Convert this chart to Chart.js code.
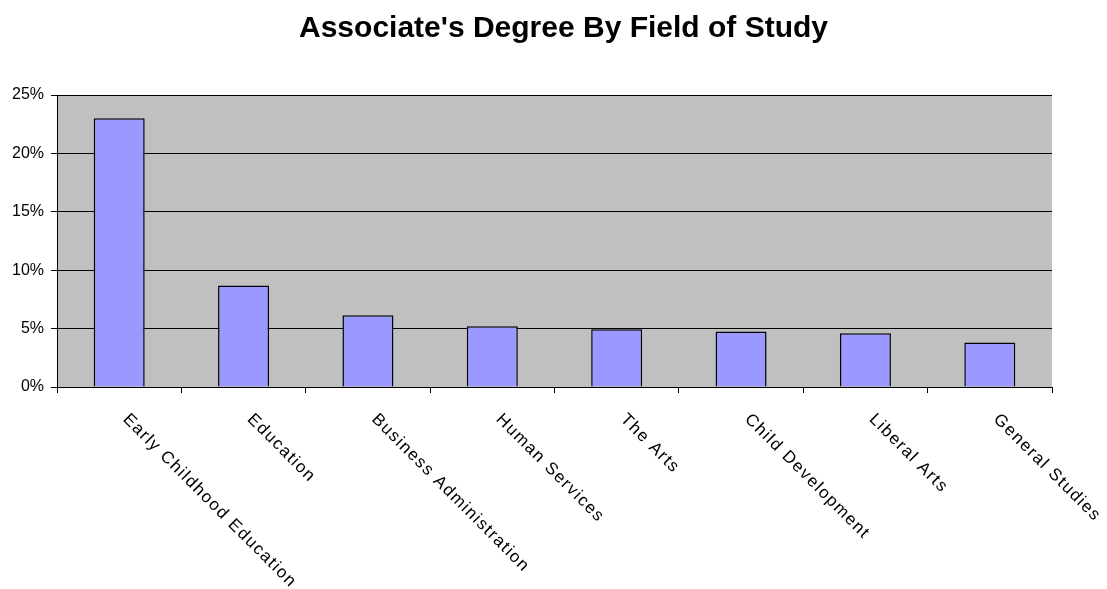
<!DOCTYPE html>
<html>
<head>
<meta charset="utf-8">
<script src="https://cdn.jsdelivr.net/npm/chart.js@4/dist/chart.umd.min.js"></script>
<style>
  html, body { margin: 0; padding: 0; background: #fff; }
  #wrap { position: relative; width: 1107px; height: 589px; }
</style>
</head>
<body>
<div id="wrap"><canvas id="chart"></canvas></div>
<script>
const fields = ['Early Childhood Education', 'Education', 'Business Administration', 'Human Services', 'The Arts', 'Child Development', 'Liberal Arts', 'General Studies'];
const shares = [23.0, 8.7, 6.15, 5.2, 4.95, 4.75, 4.6, 3.8];
const yTicks = [0, 5, 10, 15, 20, 25];

const FONT = 'Liberation Sans, Arial, sans-serif';
Chart.defaults.font.family = FONT;
Chart.defaults.color = '#000';

// plot background + slanted category labels (Excel style: text runs down-right)
const excelLook = {
  id: 'excelLook',
  afterLayout(chart) {
    // title is centred a bit right of the canvas centre in the original
    if (chart.titleBlock) { chart.titleBlock.left = 20; chart.titleBlock.right = 1107; }
  },
  beforeDraw(chart) {
    const { ctx, chartArea: a } = chart;
    ctx.save();
    ctx.fillStyle = '#c0c0c0';
    ctx.fillRect(a.left, a.top, a.right - a.left, a.bottom - a.top);
    ctx.restore();
  },
  afterDraw(chart) {
    const { ctx, chartArea: a } = chart;
    const xs = chart.scales.x;
    ctx.save();
    ctx.font = '17px ' + FONT;
    ctx.fillStyle = '#000';
    ctx.textAlign = 'left';
    ctx.textBaseline = 'alphabetic';
    if ('letterSpacing' in ctx) ctx.letterSpacing = '1.5px';
    fields.forEach((label, i) => {
      const x = xs.getPixelForTick(i);
      ctx.save();
      ctx.translate(x + 3, a.bottom + 33);
      ctx.rotate(Math.PI / 4);
      ctx.fillText(label, 0, 0);
      ctx.restore();
    });
    ctx.restore();
  }
};

new Chart(document.getElementById('chart'), {
  type: 'bar',
  data: {
    labels: fields,
    datasets: [{
      data: shares,
      backgroundColor: '#9999ff',
      borderColor: '#000',
      borderWidth: 1.5,
      barPercentage: 0.41,
      categoryPercentage: 1,
    }],
  },
  options: {
    responsive: true,
    maintainAspectRatio: false,
    animation: false,
    layout: { padding: { left: 0, right: 55, top: 0, bottom: 196 } },
    plugins: {
      legend: { display: false },
      tooltip: { enabled: false },
      title: {
        display: true,
        text: "Associate's Degree By Field of Study",
        color: '#000',
        font: { size: 30, weight: 'bold', family: FONT, lineHeight: 1.2 },
        padding: { top: 11, bottom: 48 },
      },
    },
    scales: {
      x: {
        ticks: { display: false },
        grid: {
          offset: true,
          drawOnChartArea: true,
          color: (c) => (c.index === fields.length ? '#808080' : 'rgba(0,0,0,0)'),
          tickColor: '#000',
          tickLength: 6,
          lineWidth: 1,
        },
        border: { color: '#000', width: 1 },
      },
      y: {
        min: 0,
        max: 25,
        afterBuildTicks: (s) => { s.ticks = yTicks.map((v) => ({ value: v })); },
        afterFit: (s) => { s.width = 57; },
        ticks: {
          font: { size: 16 },
          color: '#000',
          padding: 7,
          callback: (v) => v + '%',
        },
        grid: { color: '#000', tickColor: '#000', tickLength: 6, lineWidth: 1 },
        border: { color: '#000', width: 1 },
      },
    },
  },
  plugins: [excelLook],
});
</script>
</body>
</html>
